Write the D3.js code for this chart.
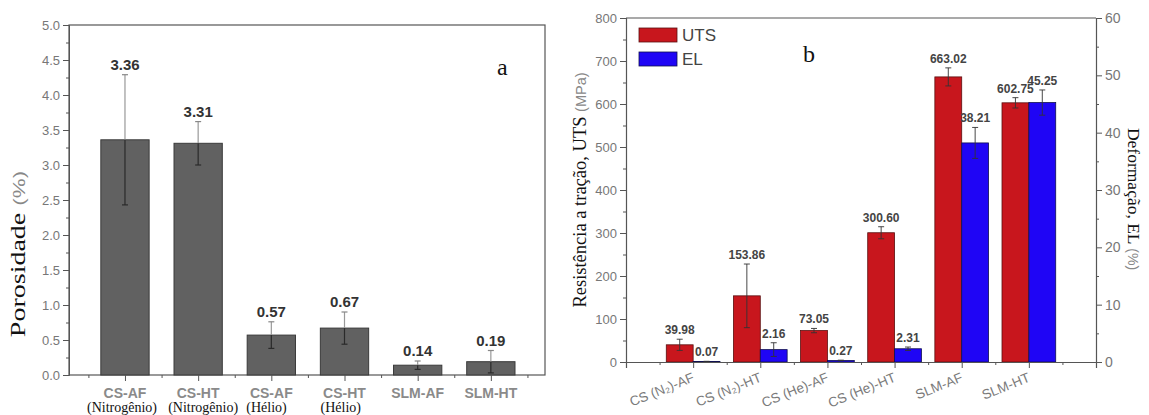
<!DOCTYPE html>
<html>
<head>
<meta charset="utf-8">
<script src="https://cdn.jsdelivr.net/npm/d3@7"></script>
<style>
  body { margin: 0; background: #fff; }
  svg { display: block; }
</style>
</head>
<body>
<svg id="chart" width="1149" height="415"></svg>
<script>
// panel a: porosity
const poroCats = ["CS-AF", "CS-HT", "CS-AF", "CS-HT", "SLM-AF", "SLM-HT"];
const poroSub = ["(Nitrogênio)", "(Nitrogênio)", "(Hélio)", "(Hélio)", "", ""];
const poroVals = [3.36, 3.31, 0.57, 0.67, 0.14, 0.19];
const poroErr = [0.93, 0.31, 0.19, 0.23, 0.06, 0.16];
const poroTicks = [0, 0.5, 1.0, 1.5, 2.0, 2.5, 3.0, 3.5, 4.0, 4.5, 5.0];

// panel b: tensile
const tensCats = ["CS (N\u2082)-AF", "CS (N\u2082)-HT", "CS (He)-AF", "CS (He)-HT", "SLM-AF", "SLM-HT"];
const utsVals = [39.98, 153.86, 73.05, 300.60, 663.02, 602.75];
const utsErr = [13, 74, 5, 14, 21, 12];
const elVals = [0.07, 2.16, 0.27, 2.31, 38.21, 45.25];
const elErr = [0.05, 1.2, 0.05, 0.3, 2.7, 2.2];
const utsTicks = [0, 100, 200, 300, 400, 500, 600, 700, 800];
const elTicks = [0, 10, 20, 30, 40, 50, 60];

const svg = d3.select("#chart");
const sans = "'Liberation Sans', Arial, sans-serif";
const serif = "'Liberation Serif', 'Times New Roman', serif";
const axisCol = "#555";
const tickTxt = "#777";

// ---------- panel a ----------
const ax = d3.scaleLinear().domain([0.235, 6.74]).range([69, 545]);
const ay = d3.scaleLinear().domain([0, 5]).range([375, 25]);
const ga = svg.append("g");

ga.append("rect").attr("x", 69).attr("y", 25).attr("width", 476).attr("height", 350)
  .attr("fill", "none").attr("stroke", axisCol).attr("stroke-width", 1.2);

const aBw = 0.66;
ga.selectAll(".pbar").data(poroVals).join("rect").attr("class", "pbar")
  .attr("x", (d, i) => ax(i + 1 - aBw / 2))
  .attr("width", ax(aBw) - ax(0))
  .attr("y", d => ay(d))
  .attr("height", d => ay(0) - ay(d))
  .attr("fill", "#616161").attr("stroke", "#3a3a3a").attr("stroke-width", 1);

// error bars: light outside bar, dark inside
poroVals.forEach((v, i) => {
  const cx = ax(i + 1);
  const hi = v + poroErr[i], lo = Math.max(0, v - poroErr[i]);
  ga.append("line").attr("x1", cx).attr("x2", cx).attr("y1", ay(v)).attr("y2", ay(hi))
    .attr("stroke", "#999").attr("stroke-width", 1.2);
  ga.append("line").attr("x1", cx).attr("x2", cx).attr("y1", ay(lo)).attr("y2", ay(v))
    .attr("stroke", "#2a2a2a").attr("stroke-width", 1.2);
  ga.append("line").attr("x1", cx - 3).attr("x2", cx + 3).attr("y1", ay(hi)).attr("y2", ay(hi))
    .attr("stroke", "#888").attr("stroke-width", 1.2);
  ga.append("line").attr("x1", cx - 3).attr("x2", cx + 3).attr("y1", ay(lo)).attr("y2", ay(lo))
    .attr("stroke", lo < v ? "#2a2a2a" : "#888").attr("stroke-width", 1.2);
  ga.append("text").attr("x", cx).attr("y", ay(hi) - 5)
    .attr("text-anchor", "middle").attr("font-family", sans).attr("font-weight", "bold")
    .attr("font-size", 15).attr("fill", "#333").text(v.toFixed(2));
});

// y axis a
const yAxA = d3.axisLeft(ay).tickValues(poroTicks).tickFormat(d3.format(".1f")).tickSize(6).tickPadding(3);
const gya = ga.append("g").attr("transform", "translate(69,0)").call(yAxA);
gya.select(".domain").attr("stroke", axisCol);
gya.selectAll(".tick line").attr("stroke", axisCol);
gya.selectAll("text").attr("font-family", sans).attr("font-size", 13).attr("fill", tickTxt);
ga.append("g").attr("transform", "translate(69,0)")
  .call(d3.axisLeft(ay).tickValues(d3.range(0.25, 5, 0.5)).tickFormat("").tickSize(3))
  .call(g => g.select(".domain").remove())
  .selectAll("line").attr("stroke", axisCol);

// x axis a
const gxa = ga.append("g").attr("transform", "translate(0,375)")
  .call(d3.axisBottom(ax).tickValues(d3.range(1, 7)).tickFormat("").tickSize(6));
gxa.select(".domain").remove();
gxa.selectAll("line").attr("stroke", axisCol);
ga.append("g").attr("transform", "translate(0,375)")
  .call(d3.axisBottom(ax).tickValues(d3.range(0.5, 7, 1)).tickFormat("").tickSize(3))
  .call(g => g.select(".domain").remove())
  .selectAll("line").attr("stroke", axisCol);

ga.selectAll(".pcat").data(poroCats).join("text").attr("class", "pcat")
  .attr("x", (d, i) => ax(i + 1)).attr("y", 398)
  .attr("text-anchor", "middle").attr("font-family", sans).attr("font-weight", "bold")
  .attr("font-size", 14).attr("fill", "#8a8a8a").text(d => d);
const subShift = [-38, -30, -25, -24, 0, 0];
ga.selectAll(".psub").data(poroSub).join("text").attr("class", "psub")
  .attr("x", (d, i) => ax(i + 1) + subShift[i]).attr("y", 412)
  .attr("font-family", serif).attr("font-size", 14).attr("fill", "#111").text(d => d);

const ylabA = ga.append("text").attr("transform", "translate(25,254) rotate(-90) scale(1.4,1)")
  .attr("text-anchor", "middle").attr("font-size", 20);
ylabA.append("tspan").attr("font-family", serif).attr("fill", "#111").text("Porosidade ");
ylabA.append("tspan").attr("font-family", sans).attr("font-size", 16).attr("fill", "#888").text("(%)");

ga.append("text").attr("x", 497).attr("y", 75).attr("font-family", serif).attr("font-size", 24)
  .attr("fill", "#111").text("a");

// ---------- panel b ----------
const bx = d3.scaleLinear().domain([0, 7]).range([626, 1096]);
const by = d3.scaleLinear().domain([0, 800]).range([362, 18]);
const by2 = d3.scaleLinear().domain([0, 60]).range([362, 18]);
const gb = svg.append("g");

gb.append("line").attr("x1", 626).attr("x2", 1096).attr("y1", 18).attr("y2", 18)
  .attr("stroke", axisCol).attr("stroke-width", 1.2);

const bBw = 0.4;
const red = "#c8161d", blue = "#1f05f5";
gb.selectAll(".ubar").data(utsVals).join("rect").attr("class", "ubar")
  .attr("x", (d, i) => bx(i + 1 - bBw)).attr("width", bx(bBw) - bx(0))
  .attr("y", d => by(d)).attr("height", d => by(0) - by(d))
  .attr("fill", red).attr("stroke", "#5a1010").attr("stroke-width", 0.8);
gb.selectAll(".ebar").data(elVals).join("rect").attr("class", "ebar")
  .attr("x", (d, i) => bx(i + 1)).attr("width", bx(bBw) - bx(0))
  .attr("y", d => by2(d)).attr("height", d => by2(0) - by2(d))
  .attr("fill", blue).attr("stroke", "#101050").attr("stroke-width", 0.8);

function errBar(g, cx, v, e, sc, label) {
  const hi = sc(v + e), lo = sc(Math.max(0, v - e));
  g.append("line").attr("x1", cx).attr("x2", cx).attr("y1", lo).attr("y2", hi)
    .attr("stroke", "#333").attr("stroke-width", 0.9);
  [hi, lo].forEach(y => g.append("line").attr("x1", cx - 3).attr("x2", cx + 3)
    .attr("y1", y).attr("y2", y).attr("stroke", "#333").attr("stroke-width", 0.9));
  g.append("text").attr("x", cx).attr("y", hi - 5).attr("text-anchor", "middle")
    .attr("font-family", sans).attr("font-weight", "bold").attr("font-size", 12)
    .attr("fill", "#444").text(label);
}
const bHalf = (bx(bBw) - bx(0)) / 2;
utsVals.forEach((v, i) => errBar(gb, bx(i + 1) - bHalf, v, utsErr[i], by, v.toFixed(2)));
elVals.forEach((v, i) => errBar(gb, bx(i + 1) + bHalf, v, elErr[i], by2, v.toFixed(2)));

// left y axis b
const gyb = gb.append("g").attr("transform", "translate(626,0)")
  .call(d3.axisLeft(by).tickValues(utsTicks).tickSize(6).tickPadding(3));
gyb.select(".domain").attr("stroke", axisCol).attr("stroke-width", 1.2);
gyb.selectAll(".tick line").attr("stroke", axisCol);
gyb.selectAll("text").attr("font-family", sans).attr("font-size", 13).attr("fill", tickTxt);
gb.append("g").attr("transform", "translate(626,0)")
  .call(d3.axisLeft(by).tickValues(d3.range(50, 800, 100)).tickFormat("").tickSize(3))
  .call(g => g.select(".domain").remove())
  .selectAll("line").attr("stroke", axisCol);

// right y axis b
const gyb2 = gb.append("g").attr("transform", "translate(1096,0)")
  .call(d3.axisRight(by2).tickValues(elTicks).tickSize(6).tickPadding(3));
gyb2.select(".domain").attr("stroke", axisCol).attr("stroke-width", 1.2);
gyb2.selectAll(".tick line").attr("stroke", axisCol);
gyb2.selectAll("text").attr("font-family", sans).attr("font-size", 14).attr("fill", tickTxt);
gb.append("g").attr("transform", "translate(1096,0)")
  .call(d3.axisRight(by2).tickValues(d3.range(5, 60, 10)).tickFormat("").tickSize(3))
  .call(g => g.select(".domain").remove())
  .selectAll("line").attr("stroke", axisCol);

// x axis b
const gxb = gb.append("g").attr("transform", "translate(0,362)")
  .call(d3.axisBottom(bx).tickValues(d3.range(1, 7)).tickFormat("").tickSize(6));
gxb.select(".domain").attr("stroke", axisCol).attr("stroke-width", 1.2);
gxb.selectAll("line").attr("stroke", axisCol);
gb.append("g").attr("transform", "translate(0,362)")
  .call(d3.axisBottom(bx).tickValues(d3.range(0.5, 7, 1)).tickFormat("").tickSize(3))
  .call(g => g.select(".domain").remove())
  .selectAll("line").attr("stroke", axisCol);

gb.selectAll(".tcat").data(tensCats).join("text").attr("class", "tcat")
  .attr("transform", (d, i) => `translate(${bx(i + 1) + 2},${381}) rotate(-22)`)
  .attr("text-anchor", "end").attr("font-family", sans).attr("font-size", 13.5)
  .attr("fill", "#7a7a7a").text(d => d);

// axis titles
const ylabB = gb.append("text").attr("transform", "translate(586,190) rotate(-90)")
  .attr("text-anchor", "middle").attr("font-size", 18.5);
ylabB.append("tspan").attr("font-family", serif).attr("fill", "#111").text("Resistência a tração, UTS  ");
ylabB.append("tspan").attr("font-family", sans).attr("font-size", 14.5).attr("fill", "#888").text("(MPa)");

const ylabB2 = gb.append("text").attr("transform", "translate(1128,199) rotate(90)")
  .attr("text-anchor", "middle").attr("font-size", 17.5);
ylabB2.append("tspan").attr("font-family", serif).attr("fill", "#111").text("Deformação, EL ");
ylabB2.append("tspan").attr("font-family", sans).attr("font-size", 14).attr("fill", "#888").text("(%)");

// legend
const legend = [{ name: "UTS", color: red, stroke: "#5a1010" }, { name: "EL", color: blue, stroke: "#101050" }];
const lg = gb.append("g");
legend.forEach((l, i) => {
  lg.append("rect").attr("x", 639).attr("y", 28 + i * 24).attr("width", 38).attr("height", 14)
    .attr("fill", l.color).attr("stroke", l.stroke).attr("stroke-width", 0.8);
  lg.append("text").attr("x", 682).attr("y", 41 + i * 24).attr("font-family", sans)
    .attr("font-size", 17).attr("fill", "#444").text(l.name);
});

gb.append("text").attr("x", 803).attr("y", 62).attr("font-family", serif).attr("font-size", 24)
  .attr("fill", "#111").text("b");
</script>
</body>
</html>
